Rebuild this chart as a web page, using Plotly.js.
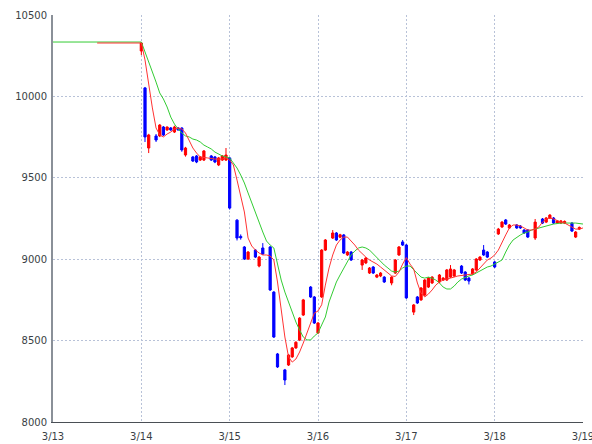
<!DOCTYPE html>
<html>
<head>
<meta charset="utf-8">
<script src="https://cdn.plot.ly/plotly-3.0.1.min.js"></script>
<style>
html,body{margin:0;padding:0;overflow:hidden;background:#fff;}
#chart{width:600px;height:444px;}
</style>
</head>
<body>
<div id="chart"></div>
<script>
// Candles: hours since 3/13 00:00
const candleHours = [24,25,26,28,29,30,31,32,33,34,35,36,38,39,40,41,43,44,45,46,47,48,50,51,52,53,55,56,57,59,60,61,63,64,65,66,67,68,70,71,72,73,74,76,77,78,79,80,81,84,85,86,87,88,89,90,92,93,94,95,96,98,99,100,101,102,103,105,106,107,108,109,111,112,113,114,115,116,117,118,120,121,122,123,124,126,127,128,129,131,133,134,135,136,137,138,139,141,142,143];
const openV  = [10279,10052,9683,9757,9757,9812,9794,9806,9781,9806,9806,9640,9628,9634,9609,9609,9634,9628,9579,9609,9609,9622,9240,9140,9075,9001,9056,8958,9069,9075,8798,8418,8320,8350,8400,8455,8503,8657,8829,8768,8547,8768,9056,9130,9161,9135,9149,9026,9044,8964,8977,8915,8952,8890,8897,8890,8854,8915,9026,9106,9087,8675,8768,8750,8780,8829,8854,8860,8872,8872,8890,8897,8958,8921,8884,8909,8934,8995,9056,9044,8983,9155,9198,9241,9192,9210,9204,9179,9179,9130,9247,9228,9253,9253,9222,9222,9222,9222,9136,9185];
const highV  = [10334,10058,9770,9769,9830,9818,9815,9812,9820,9812,9810,9690,9634,9640,9634,9670,9640,9634,9628,9640,9683,9628,9246,9152,9081,9050,9062,9020,9099,9081,8804,8424,8326,8418,8461,8496,8644,8756,8835,8774,8614,9062,9124,9179,9167,9156,9155,9050,9050,9001,9013,8952,8958,8909,8921,8896,8896,9001,9081,9118,9093,8725,8774,8829,8878,8890,8896,8909,8890,8940,8964,8940,8964,8927,8890,8946,9007,9019,9087,9050,8989,9192,9234,9247,9216,9216,9210,9185,9185,9247,9253,9259,9277,9259,9241,9241,9238,9228,9173,9201];
const lowV   = [10254,9720,9652,9720,9750,9757,9788,9788,9775,9790,9660,9630,9597,9590,9603,9603,9603,9590,9572,9603,9603,9305,9115,9120,8995,8995,9007,8950,9026,8805,8516,8332,8227,8344,8394,8449,8497,8651,8762,8602,8540,8762,9050,9124,9112,9129,9032,9020,8989,8934,8970,8909,8909,8884,8890,8854,8840,8909,9020,9081,8756,8657,8725,8744,8774,8823,8848,8854,8866,8866,8884,8890,8909,8866,8845,8903,8927,8989,9020,9007,8946,9149,9192,9210,9186,9186,9186,9155,9130,9118,9216,9222,9247,9216,9216,9216,9216,9167,9130,9179];
const closeV = [10328,9751,9763,9732,9824,9763,9812,9794,9812,9794,9671,9683,9603,9597,9628,9665,9609,9597,9622,9634,9640,9314,9130,9132,9001,9044,9013,9013,9032,8811,8522,8338,8258,8411,8455,8490,8638,8750,8768,8608,8608,9056,9118,9161,9118,9150,9038,9044,8995,8995,9007,8946,8915,8903,8915,8860,8890,8995,9075,9087,8762,8719,8731,8823,8872,8884,8890,8903,8884,8934,8940,8934,8915,8872,8866,8940,9001,9013,9026,9013,8952,9185,9228,9216,9210,9192,9192,9161,9136,9228,9222,9253,9271,9222,9235,9235,9232,9173,9167,9195];

// Short moving average (red)
const redHours = [12,24,25,26,27,28,29,30,31,32,33,34,35,36,37,38,39,40,42,44,46,47,48,49,50,51,52,53,54,55,56,57,58,59,60,61,62,63,64,65,66,67,68,69,70,71,72,73,74,75,76,77,78,79,80,81,82,83,84,85,86,87,88,89,90,91,92,93,94,95,96,97,98,99,100,101,102,103,104,105,106,108,110,112,114,115,116,117,118,119,120,121,122,123,124,125,126,127,128,129,130,131,132,133,134,135,136,137,138,139,140,141,142,143,144];
const redMA = [10328,10328,10224,10070,9929,9806,9763,9751,9769,9781,9800,9806,9800,9775,9732,9683,9652,9628,9622,9615,9615,9622,9609,9579,9486,9382,9290,9130,9081,9056,9038,9026,9026,9020,8995,8860,8676,8522,8399,8368,8387,8430,8485,8547,8602,8669,8682,8720,8841,8946,9026,9087,9118,9136,9136,9112,9087,9056,9032,9013,8995,8983,8970,8952,8934,8915,8897,8894,8921,8970,9010,8970,8940,8854,8792,8768,8786,8811,8841,8860,8872,8884,8897,8903,8909,8921,8946,8970,8995,9007,9026,9056,9106,9149,9192,9210,9210,9204,9192,9179,9179,9185,9198,9228,9247,9253,9247,9235,9228,9222,9210,9198,9185,9185,9192];

// Long moving average (green)
const greenHours = [0,24,25,26,27,28,29,30,31,32,33,34,35,36,37,38,39,40,41,42,43,44,45,46,47,48,49,50,51,52,53,54,55,56,57,58,59,60,61,62,63,64,65,66,67,68,69,70,71,72,73,74,75,76,77,78,79,80,81,82,83,84,85,86,87,88,89,90,91,92,93,94,95,96,97,98,99,100,101,102,103,104,105,106,107,108,109,110,111,112,113,114,115,116,117,118,119,120,121,122,123,124,125,126,127,128,129,130,131,132,134,136,138,140,142,144];
const greenMA = [10334,10334,10273,10205,10150,10088,10021,9984,9935,9873,9830,9800,9775,9757,9751,9738,9732,9720,9701,9689,9677,9658,9646,9634,9628,9622,9591,9560,9517,9468,9407,9345,9284,9228,9167,9112,9087,9069,8964,8872,8798,8737,8669,8614,8565,8522,8504,8504,8528,8547,8596,8645,8737,8798,8860,8903,8946,8989,9026,9050,9069,9075,9069,9056,9032,9013,8989,8964,8946,8927,8921,8927,8946,8958,8958,8934,8909,8890,8884,8890,8884,8872,8854,8829,8817,8817,8835,8860,8878,8890,8897,8903,8915,8927,8940,8952,8958,8970,8983,8995,9044,9087,9118,9136,9149,9161,9167,9179,9185,9192,9204,9216,9222,9222,9222,9216];

const dayTicks = ['2024-03-13','2024-03-14','2024-03-15','2024-03-16','2024-03-17','2024-03-18','2024-03-19'];
const dayLabels = ['3/13','3/14','3/15','3/16','3/17','3/18','3/19'];
const priceTicks = [8000,8500,9000,9500,10000,10500];
const priceLabels = ['8000','8500','9000','9500','10000','10500'];

function t(h){
  const d = 13 + Math.floor(h/24), hh = h % 24;
  return '2024-03-' + d + ' ' + String(hh).padStart(2,'0') + ':00';
}

const traces = [
  {
    type:'candlestick',
    x: candleHours.map(t), open: openV, high: highV, low: lowV, close: closeV,
    increasing:{line:{color:'#ff0000',width:1}, fillcolor:'#ff0000'},
    decreasing:{line:{color:'#0000ff',width:1}, fillcolor:'#0000ff'},
    whiskerwidth:0, hoverinfo:'skip'
  },
  {type:'scatter', mode:'lines', x: greenHours.map(t), y: greenMA,
   line:{color:'#33cc33', width:1}, hoverinfo:'skip'},
  {type:'scatter', mode:'lines', x: redHours.map(t), y: redMA,
   line:{color:'#ff3333', width:1}, hoverinfo:'skip'}
];

const tickFont = {family:'DejaVu Sans, sans-serif', size:10, color:'#3a3f45'};
const layout = {
  width:600, height:444,
  margin:{l:53, r:17, t:15, b:22},
  paper_bgcolor:'#fff', plot_bgcolor:'#fff',
  showlegend:false,
  boxgap:0.4, boxgroupgap:0,
  xaxis:{
    type:'date', range:['2024-03-13','2024-03-19'],
    tickvals: dayTicks, ticktext: dayLabels,
    showgrid:true, gridcolor:'#b8c2d8', griddash:'2px,2px', gridwidth:1,
    showline:true, linecolor:'#4a4f55', linewidth:1,
    ticks:'', tickfont: tickFont, zeroline:false, ticklabelstandoff:5,
    rangeslider:{visible:false}, fixedrange:true
  },
  yaxis:{
    range:[8000,10500], tickvals: priceTicks, ticktext: priceLabels,
    showgrid:true, gridcolor:'#b8c2d8', griddash:'2px,2px', gridwidth:1,
    showline:true, linecolor:'#8a9098', linewidth:2,
    ticks:'', tickfont: tickFont, zeroline:false, ticklabelstandoff:2, fixedrange:true
  }
};

Plotly.newPlot('chart', traces, layout, {displayModeBar:false, staticPlot:true});
</script>
</body>
</html>
